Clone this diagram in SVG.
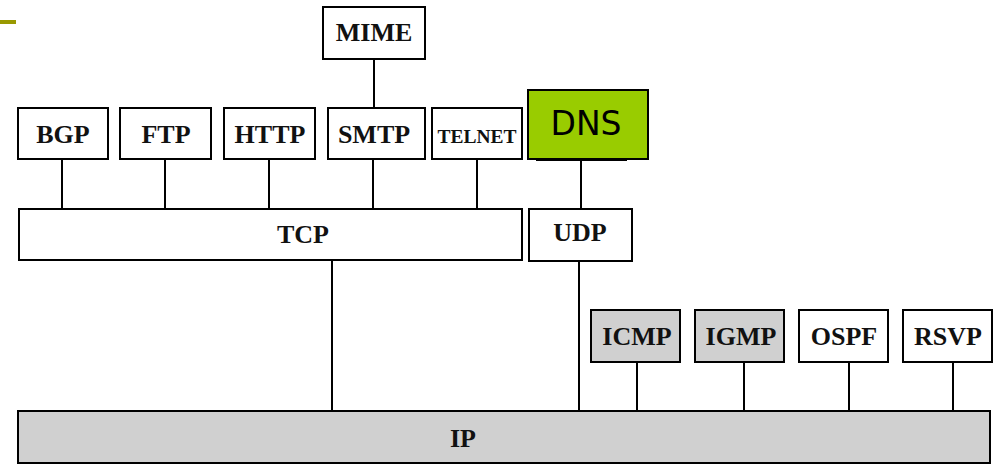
<svg xmlns="http://www.w3.org/2000/svg" width="993" height="467" viewBox="0 0 993 467">
  <style>
    .box { fill: #ffffff; stroke: #000000; stroke-width: 2; }
    .grey { fill: #d0d0d0; }
    .dns { fill: #99cc00; stroke: #000000; stroke-width: 2; }
    .lbl { font-family: "Liberation Serif", "Times New Roman", serif; font-weight: bold; font-size: 26px; fill: #111111; text-anchor: middle; }
    .small { font-size: 18px; }
    .sans { font-family: "DejaVu Sans", sans-serif; font-weight: normal; font-size: 33px; fill: #000000; text-anchor: middle; }
    .wire { stroke: #000000; stroke-width: 2; fill: none; }
  </style>

  <!-- slide accent bar -->
  <rect x="0" y="20" width="16" height="4" fill="#999900"/>

  <!-- connectors -->
  <g id="connectors">
    <line class="wire" x1="374" y1="59" x2="374" y2="108"/>
    <line class="wire" x1="62" y1="159" x2="62" y2="209"/>
    <line class="wire" x1="165" y1="159" x2="165" y2="209"/>
    <line class="wire" x1="269" y1="159" x2="269" y2="209"/>
    <line class="wire" x1="373" y1="159" x2="373" y2="209"/>
    <line class="wire" x1="477" y1="159" x2="477" y2="209"/>
    <line class="wire" x1="581" y1="159" x2="581" y2="209"/>
    <line class="wire" x1="332" y1="260" x2="332" y2="411"/>
    <line class="wire" x1="579" y1="261" x2="579" y2="411"/>
    <line class="wire" x1="637" y1="362" x2="637" y2="411"/>
    <line class="wire" x1="744" y1="362" x2="744" y2="411"/>
    <line class="wire" x1="849" y1="362" x2="849" y2="411"/>
    <line class="wire" x1="953" y1="362" x2="953" y2="411"/>
  </g>

  <g id="mime">
    <rect class="box" x="323" y="7" width="102" height="52"/>
    <text class="lbl" x="374" y="41">MIME</text>
  </g>
  <g id="bgp">
    <rect class="box" x="18" y="108" width="90" height="51"/>
    <text class="lbl" x="63" y="143">BGP</text>
  </g>
  <g id="ftp">
    <rect class="box" x="120" y="108" width="91" height="51"/>
    <text class="lbl" x="166" y="143">FTP</text>
  </g>
  <g id="http">
    <rect class="box" x="224" y="108" width="91" height="51"/>
    <text class="lbl" x="270" y="143">HTTP</text>
  </g>
  <g id="smtp">
    <rect class="box" x="328" y="108" width="97" height="51"/>
    <text class="lbl" x="374" y="143">SMTP</text>
  </g>
  <g id="telnet">
    <rect class="box" x="432" y="108" width="90" height="51"/>
    <text class="lbl small" x="477" y="143" textLength="79" lengthAdjust="spacingAndGlyphs">TELNET</text>
  </g>
  <g id="dns">
    <line class="wire" x1="536" y1="160" x2="627" y2="160"/>
    <rect class="dns" x="528" y="90" width="120" height="69"/>
    <text class="sans" x="586" y="135">DNS</text>
  </g>
  <g id="tcp">
    <rect class="box" x="19" y="209" width="503" height="51"/>
    <text class="lbl" x="303" y="243">TCP</text>
  </g>
  <g id="udp">
    <rect class="box" x="529" y="209" width="103" height="52"/>
    <text class="lbl" x="580" y="241">UDP</text>
  </g>
  <g id="icmp">
    <rect class="box grey" x="591" y="310" width="89" height="52"/>
    <text class="lbl" x="637" y="345">ICMP</text>
  </g>
  <g id="igmp">
    <rect class="box grey" x="695" y="310" width="89" height="52"/>
    <text class="lbl" x="741" y="345">IGMP</text>
  </g>
  <g id="ospf">
    <rect class="box" x="799" y="310" width="89" height="52"/>
    <text class="lbl" x="844" y="345">OSPF</text>
  </g>
  <g id="rsvp">
    <rect class="box" x="903" y="310" width="89" height="52"/>
    <text class="lbl" x="948" y="345">RSVP</text>
  </g>
  <g id="ip">
    <rect class="box grey" x="18" y="411" width="972" height="52"/>
    <text class="lbl" x="463" y="447">IP</text>
  </g>
</svg>
